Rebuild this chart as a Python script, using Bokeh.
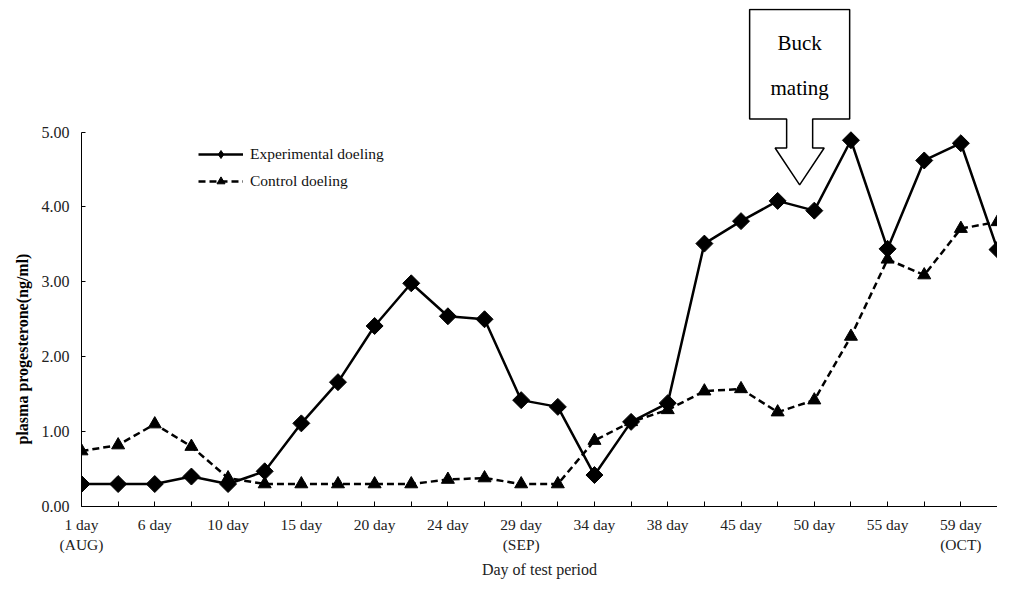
import math
from bokeh.plotting import figure
from bokeh.models import (Range1d, FixedTicker, NumeralTickFormatter, Legend,
                          LegendItem, ColumnDataSource, Title)
from bokeh.core.properties import value
from bokeh.embed import file_html
from bokeh.resources import INLINE

# ---------------- data ----------------
tick_labels = ["1 day\n(AUG)", "", "6 day", "", "10 day", "", "15 day", "",
               "20 day", "", "24 day", "", "29 day\n(SEP)", "", "34 day", "",
               "38 day", "", "45 day", "", "50 day", "", "55 day", "",
               "59 day\n(OCT)", ""]
experimental = [0.30, 0.30, 0.30, 0.40, 0.30, 0.47, 1.11, 1.66, 2.41, 2.98,
                2.54, 2.50, 1.42, 1.33, 0.42, 1.13, 1.38, 3.51, 3.81, 4.08,
                3.95, 4.89, 3.44, 4.62, 4.85, 3.43]
control = [0.74, 0.82, 1.10, 0.80, 0.38, 0.30, 0.30, 0.30, 0.30, 0.30,
           0.36, 0.38, 0.30, 0.30, 0.88, 1.13, 1.29, 1.54, 1.57, 1.26,
           1.42, 2.27, 3.30, 3.09, 3.71, 3.80]
y_ticks = [0, 1, 2, 3, 4, 5]
series_names = ["Experimental doeling", "Control doeling"]
callout_text = ["Buck", "mating"]
y_title = "plasma progesterone(ng/ml)"
x_title = "Day of test period"

FONT = "Liberation Serif"
idx = list(range(len(experimental)))

p = figure(width=997, height=580, output_backend="svg", toolbar_location=None,
           x_range=Range1d(0, len(idx) - 1), y_range=Range1d(0, 6.649))
p.min_border_left = 81
p.min_border_right = 0
p.min_border_top = 8
p.min_border_bottom = 72
p.outline_line_color = None
p.xgrid.visible = False
p.ygrid.visible = False
p.background_fill_color = "white"
p.border_fill_color = "white"

src = ColumnDataSource(dict(x=idx, exp=experimental, ctl=control))

l1 = p.line("x", "exp", source=src, line_color="black", line_width=2.5)
m1 = p.scatter("x", "exp", source=src, marker="square", angle=math.pi / 4,
               size=12, fill_color="black", line_color="black")
# legend-only proxy (hidden) so the legend shows a diamond
m1_leg = p.scatter("x", "exp", source=src, marker="diamond", size=10,
                   fill_color="black", line_color="black", visible=False)
l2 = p.line("x", "ctl", source=src, line_color="black", line_width=2.5,
            line_dash="7 4")
m2 = p.scatter("x", "ctl", source=src, marker="triangle", size=13,
               fill_color="black", line_color="black")

# ---- callout "Buck mating" arrow box ----
cx = 19.6
bx = [cx - 1.365, cx + 1.365, cx + 1.365, cx + 0.355, cx + 0.355, cx + 0.67,
      cx, cx - 0.67, cx - 0.355, cx - 0.355, cx - 1.365]
by = [6.636, 6.636, 5.173, 5.173, 4.787, 4.787, 4.295, 4.787, 4.787,
      5.173, 5.173]
p.patch(bx, by, fill_color="white", line_color="black", line_width=1.5)
p.text(x=[cx, cx], y=[6.184, 5.585], text=callout_text,
       text_font=value(FONT), text_font_size="21px", text_align="center",
       text_baseline="middle", text_color="black")

# ---- axes ----
xa = p.xaxis[0]
xa.ticker = FixedTicker(ticks=idx)
xa.major_label_overrides = {i: t for i, t in zip(idx, tick_labels)}
xa.major_tick_in = 5
xa.major_tick_out = 0
xa.minor_tick_line_color = None
xa.major_label_text_font = FONT
xa.major_label_text_font_size = "15.5px"
xa.major_label_text_color = "#222222"
xa.major_label_standoff = 9
xa.axis_label = x_title
xa.axis_label_text_font = FONT
xa.axis_label_text_font_size = "16px"
xa.axis_label_text_font_style = "normal"
xa.axis_label_text_color = "#222222"
xa.axis_label_standoff = 5
xa.axis_line_color = "black"
xa.major_tick_line_color = "black"

ya = p.yaxis[0]
ya.ticker = FixedTicker(ticks=y_ticks)
ya.formatter = NumeralTickFormatter(format="0.00")
ya.bounds = (0, 5)
ya.major_tick_in = 4
ya.major_tick_out = 0
ya.minor_tick_line_color = None
ya.major_label_text_font = FONT
ya.major_label_text_font_size = "16px"
ya.major_label_text_color = "#222222"
ya.major_label_standoff = 12
ya.axis_line_color = "black"
ya.major_tick_line_color = "black"

# y title as a side title (starts near the bottom, as in the original)
p.add_layout(Title(text=y_title, align="left", offset=62,
                   text_font=FONT, text_font_size="16px",
                   text_font_style="bold", text_color="black",
                   standoff=16), "left")

legend = Legend(items=[LegendItem(label=series_names[0], renderers=[l1, m1_leg]),
                       LegendItem(label=series_names[1], renderers=[l2, m2])],
                location=(117, 315))
legend.padding = 0
legend.margin = 0
legend.spacing = 7
legend.glyph_width = 45
legend.glyph_height = 20
legend.label_standoff = 7
legend.label_text_font = FONT
legend.label_text_font_size = "15.5px"
legend.label_text_color = "#111111"
legend.background_fill_alpha = 0
legend.border_line_alpha = 0
legend.inactive_fill_alpha = 0
p.add_layout(legend)

open("out.html", "w").write(file_html(p, INLINE))
